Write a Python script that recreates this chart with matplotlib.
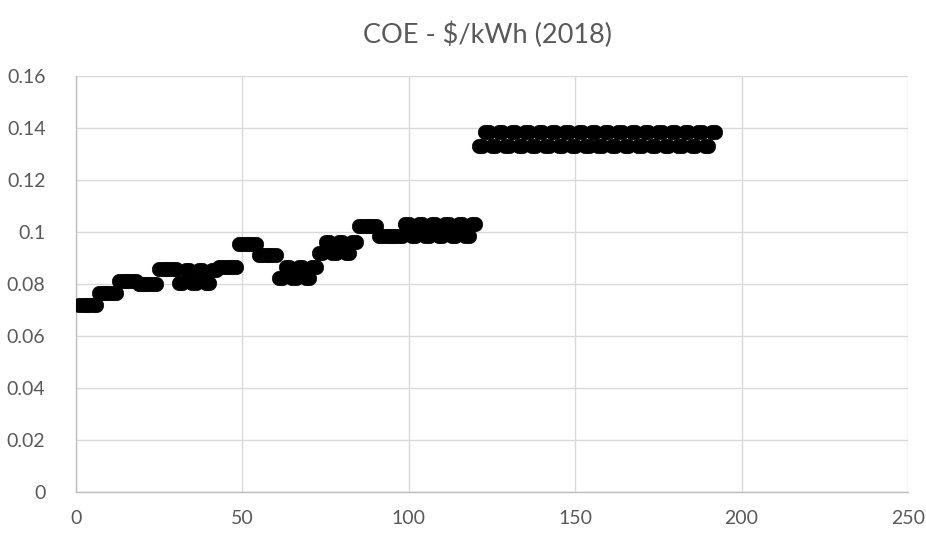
import matplotlib
matplotlib.use("Agg")
import matplotlib.pyplot as plt

plt.rcParams['font.family'] = ['Lato', 'DejaVu Sans']

title = "COE - $/kWh (2018)"

# Case number of each run in the study
case = list(range(1, 193))

# Cost of energy for each case, $/kWh (2018)
coe = [
    0.0720, 0.0720, 0.0720, 0.0720, 0.0720, 0.0720, 0.0767, 0.0767, 0.0767, 0.0767, 0.0767, 0.0767,
    0.0810, 0.0810, 0.0810, 0.0810, 0.0810, 0.0810, 0.0800, 0.0800, 0.0800, 0.0800, 0.0800, 0.0800,
    0.0857, 0.0857, 0.0857, 0.0857, 0.0857, 0.0857, 0.0804, 0.0804, 0.0855, 0.0855, 0.0804, 0.0804,
    0.0855, 0.0855, 0.0804, 0.0804, 0.0855, 0.0855, 0.0866, 0.0866, 0.0866, 0.0866, 0.0866, 0.0866,
    0.0955, 0.0955, 0.0955, 0.0955, 0.0955, 0.0955, 0.0912, 0.0912, 0.0912, 0.0912, 0.0912, 0.0912,
    0.0823, 0.0823, 0.0867, 0.0867, 0.0823, 0.0823, 0.0867, 0.0867, 0.0823, 0.0823, 0.0867, 0.0867,
    0.0918, 0.0918, 0.0963, 0.0963, 0.0918, 0.0918, 0.0963, 0.0963, 0.0918, 0.0918, 0.0963, 0.0963,
    0.1024, 0.1024, 0.1024, 0.1024, 0.1024, 0.1024, 0.0986, 0.0986, 0.0986, 0.0986, 0.0986, 0.0986,
    0.0983, 0.0983, 0.1030, 0.1030, 0.0983, 0.0983, 0.1030, 0.1030, 0.0983, 0.0983, 0.1030, 0.1030,
    0.0983, 0.0983, 0.1030, 0.1030, 0.0983, 0.0983, 0.1030, 0.1030, 0.0983, 0.0983, 0.1030, 0.1030,
    0.1332, 0.1332, 0.1385, 0.1385, 0.1332, 0.1332, 0.1385, 0.1385, 0.1332, 0.1332, 0.1385, 0.1385,
    0.1332, 0.1332, 0.1385, 0.1385, 0.1332, 0.1332, 0.1385, 0.1385, 0.1332, 0.1332, 0.1385, 0.1385,
    0.1332, 0.1332, 0.1385, 0.1385, 0.1332, 0.1332, 0.1385, 0.1385, 0.1332, 0.1332, 0.1385, 0.1385,
    0.1332, 0.1332, 0.1385, 0.1385, 0.1332, 0.1332, 0.1385, 0.1385, 0.1332, 0.1332, 0.1385, 0.1385,
    0.1332, 0.1332, 0.1385, 0.1385, 0.1332, 0.1332, 0.1385, 0.1385, 0.1332, 0.1332, 0.1385, 0.1385,
    0.1332, 0.1332, 0.1385, 0.1385, 0.1332, 0.1332, 0.1385, 0.1385, 0.1332, 0.1332, 0.1385, 0.1385,
]

x_ticks = [0, 50, 100, 150, 200, 250]
y_ticks = [0, 0.02, 0.04, 0.06, 0.08, 0.10, 0.12, 0.14, 0.16]
y_tick_labels = ["0", "0.02", "0.04", "0.06", "0.08", "0.1", "0.12", "0.14", "0.16"]

text_gray = "#595959"
grid_gray = "#d9d9d9"

fig = plt.figure(figsize=(9.26, 5.38), dpi=100)
ax = fig.add_axes([76 / 926, 1 - 492 / 538, (908 - 76) / 926, (492 - 76) / 538])

ax.scatter(case, coe, s=110, color="black", edgecolors="black", linewidths=0.4, zorder=3)

ax.set_xlim(0, 250)
ax.set_ylim(0, 0.16)
ax.set_xticks(x_ticks)
ax.set_yticks(y_ticks)
ax.set_yticklabels(y_tick_labels)
ax.grid(True, color=grid_gray, linewidth=1.0, zorder=0)
ax.set_axisbelow(True)

for side in ("top", "right"):
    ax.spines[side].set_visible(False)
for side in ("left", "bottom"):
    ax.spines[side].set_color("#bfbfbf")
    ax.spines[side].set_linewidth(1.0)

ax.tick_params(axis="both", length=0, labelsize=14, labelcolor=text_gray)
ax.tick_params(axis="y", pad=22)
ax.tick_params(axis="x", pad=13)

fig.text(487 / 926, 1 - 35 / 538, title, ha="center", va="center",
         fontsize=19.5, color=text_gray)

fig.savefig("out.png", dpi=100)
